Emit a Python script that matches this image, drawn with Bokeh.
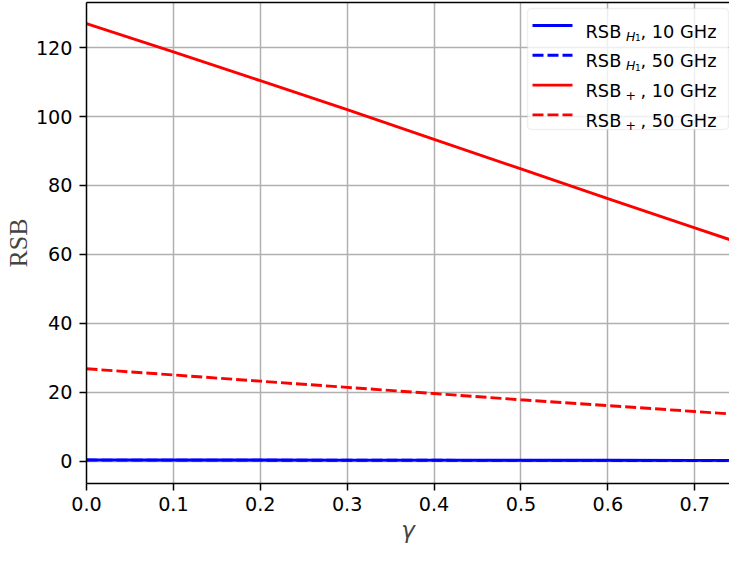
from bokeh.plotting import figure
from bokeh.models import (Range1d, FixedTicker, PrintfTickFormatter, LinearAxis,
                          Label, Arrow, BoxAnnotation, ColumnDataSource)
from bokeh.embed import file_html
from bokeh.resources import INLINE

# ---------------- data ----------------
gamma = [0.0, 0.1, 0.2, 0.3, 0.4, 0.5, 0.6, 0.7, 0.74]
rsb_h1_10 = [0.35, 0.33, 0.31, 0.29, 0.27, 0.25, 0.23, 0.21, 0.20]
rsb_h1_50 = [0.30, 0.28, 0.27, 0.25, 0.23, 0.21, 0.20, 0.18, 0.17]
rsb_plus_10 = [127.0, 118.8, 110.4, 102.0, 93.4, 84.8, 76.2, 67.7, 64.3]
rsb_plus_50 = [26.8, 25.0, 23.2, 21.4, 19.6, 17.8, 16.1, 14.4, 13.7]

x_ticks = [0.0, 0.1, 0.2, 0.3, 0.4, 0.5, 0.6, 0.7]
y_ticks = [0, 20, 40, 60, 80, 100, 120]

series = [
    ("H1", "10 GHz", rsb_h1_10, "#0000ff", None),
    ("H1", "50 GHz", rsb_h1_50, "#0000ff", "11 4"),
    ("+", "10 GHz", rsb_plus_10, "#ff0000", None),
    ("+", "50 GHz", rsb_plus_50, "#ff0000", "11 4"),
]

FW, FH = 643, 481
TICK_FONT = "19.2px"
LEG_FONT = "17.8px"

p = figure(frame_width=FW, frame_height=FH, output_backend="svg", toolbar_location=None,
           x_range=Range1d(0, 0.74), y_range=Range1d(-6.5, 133.1),
           min_border_left=86, min_border_right=0, min_border_top=2,
           min_border_bottom=63)
p.outline_line_color = None
p.background_fill_color = "white"
p.border_fill_color = "white"

for ax in (p.xaxis[0], p.yaxis[0]):
    ax.axis_line_width = 1.5
    ax.axis_line_color = "black"
    ax.major_tick_line_width = 1.5
    ax.major_tick_out = 7
    ax.major_tick_in = 0
    ax.minor_tick_line_color = None
    ax.major_label_text_font = "DejaVu Sans"
    ax.major_label_text_font_size = TICK_FONT
    ax.major_label_text_color = "black"

p.xaxis[0].ticker = FixedTicker(ticks=x_ticks)
p.xaxis[0].formatter = PrintfTickFormatter(format="%.1f")
p.xaxis[0].major_label_standoff = 6
p.xaxis[0].axis_label = "γ"
p.xaxis[0].axis_label_text_font = "DejaVu Sans"
p.xaxis[0].axis_label_text_font_style = "italic"
p.xaxis[0].axis_label_text_font_size = "23px"
p.xaxis[0].axis_label_standoff = 3

p.yaxis[0].ticker = FixedTicker(ticks=y_ticks)
p.yaxis[0].formatter = PrintfTickFormatter(format="%d")
p.yaxis[0].major_label_standoff = 7
p.yaxis[0].axis_label = "RSB"
p.yaxis[0].axis_label_text_font = "Liberation Serif"
p.yaxis[0].axis_label_text_font_style = "normal"
p.yaxis[0].axis_label_text_font_size = "26px"
p.yaxis[0].axis_label_standoff = 0

top_axis = LinearAxis(ticker=FixedTicker(ticks=[]), axis_line_color="black",
                      axis_line_width=1.5, major_tick_out=0, major_tick_in=0,
                      minor_tick_line_color=None, major_label_text_font_size="0px",
                      major_label_standoff=0)
p.add_layout(top_axis, "above")

p.xgrid.ticker = FixedTicker(ticks=x_ticks)
p.ygrid.ticker = FixedTicker(ticks=y_ticks)
p.grid.grid_line_color = "#b0b0b0"
p.grid.grid_line_width = 1.5

for sub, freq, vals, col, dash in series:
    src = ColumnDataSource(dict(x=gamma, y=vals))
    kw = dict(line_color=col, line_width=2.9)
    if dash:
        kw["line_dash"] = dash
    p.line("x", "y", source=src, **kw)

# ---------------- legend (matplotlib style, drawn in screen units) ----------------
BOX_W, BOX_H = 201, 121
box_left = FW - 1 - BOX_W
box_top = 6          # offset from frame top
ROW = 29.8


def sy(off):
    # offset from frame top -> screen y measured from frame bottom
    return FH - off


box = BoxAnnotation(left=box_left, right=box_left + BOX_W,
                    top=sy(box_top), bottom=sy(box_top + BOX_H),
                    left_units="screen", right_units="screen",
                    top_units="screen", bottom_units="screen",
                    fill_color="white", fill_alpha=0.8,
                    line_color="#cccccc", line_width=1.5, border_radius=4)
p.add_layout(box)

for k, (sub, freq, vals, col, dash) in enumerate(series):
    row = box_top + 17 + ROW * k
    base = box_top + 22.5 + ROW * k
    sw = Arrow(start=None, end=None,
               x_start=box_left + 5, x_end=box_left + 45,
               y_start=sy(row), y_end=sy(row),
               start_units="screen", end_units="screen",
               line_color=col, line_width=2.9,
               line_dash=dash if dash else "solid")
    p.add_layout(sw)
    tx = box_left + 58
    common = dict(x_units="screen", y_units="screen", text_color="black",
                  text_baseline="alphabetic", text_align="left",
                  text_font="DejaVu Sans")
    p.add_layout(Label(x=tx, y=sy(base), text="RSB", text_font_size=LEG_FONT, **common))
    if sub == "H1":
        p.add_layout(Label(x=tx + 40.5, y=sy(base + 5), text="H",
                           text_font_style="italic", text_font_size="12.5px", **common))
        p.add_layout(Label(x=tx + 49.5, y=sy(base + 6.5), text="1",
                           text_font_size="9px", **common))
    else:
        p.add_layout(Label(x=tx + 40, y=sy(base + 5), text="+",
                           text_font_size="12.5px", **common))
    p.add_layout(Label(x=tx + 55, y=sy(base), text=", " + freq,
                       text_font_size=LEG_FONT, **common))

open("out.html", "w").write(file_html(p, INLINE))
